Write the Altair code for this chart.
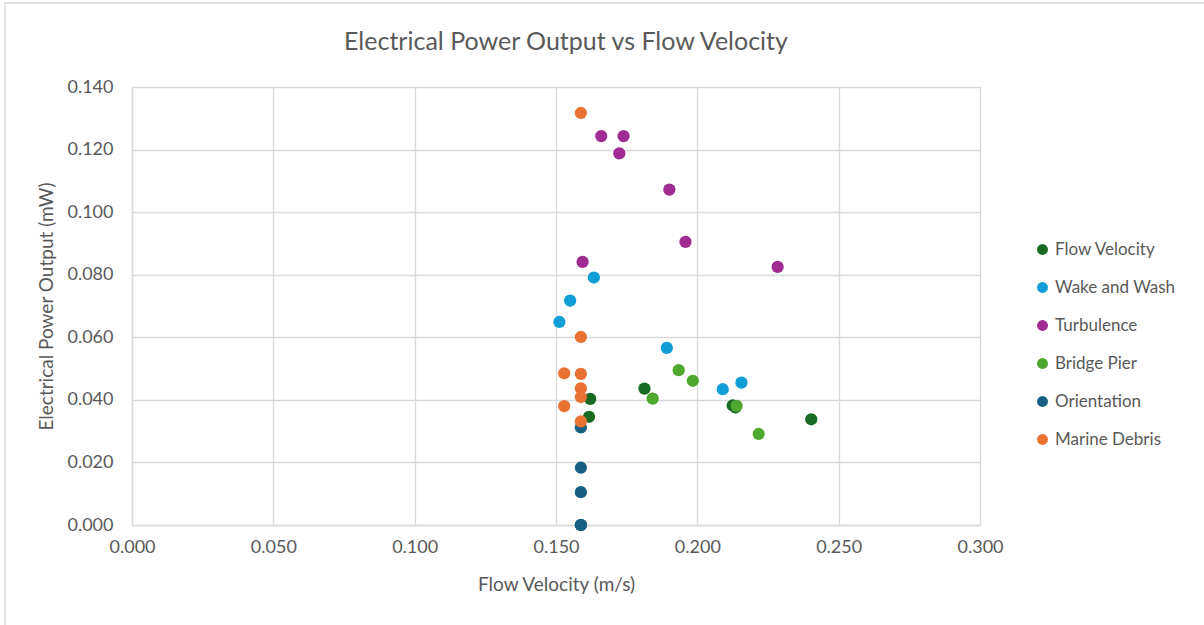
import altair as alt
import pandas as pd

series_names = ["Flow Velocity", "Wake and Wash", "Turbulence", "Bridge Pier", "Orientation", "Marine Debris"]
series_colors = ["#196B24", "#0F9ED5", "#A02B93", "#4EA72E", "#156082", "#E97132"]

flow_x = [0.1621, 0.1617, 0.1813, 0.2125, 0.2135, 0.2403]
flow_y = [0.0403, 0.0346, 0.0436, 0.0382, 0.0376, 0.0338]

wake_x = [0.1512, 0.1550, 0.1634, 0.1892, 0.2090, 0.2156]
wake_y = [0.0649, 0.0717, 0.0791, 0.0566, 0.0434, 0.0455]

turb_x = [0.1594, 0.1660, 0.1739, 0.1724, 0.1901, 0.1958, 0.2284]
turb_y = [0.0841, 0.1243, 0.1243, 0.1188, 0.1072, 0.0905, 0.0825]

pier_x = [0.1842, 0.1934, 0.1984, 0.2139, 0.2217]
pier_y = [0.0404, 0.0495, 0.0461, 0.0381, 0.0291]

orient_x = [0.1588, 0.1588, 0.1588, 0.1588, 0.1588, 0.1588]
orient_y = [0.0312, 0.0183, 0.0105, 0.0, 0.0, 0.0]

debris_x = [0.1588, 0.1588, 0.1529, 0.1588, 0.1588, 0.1588, 0.1529, 0.1588]
debris_y = [0.1317, 0.0601, 0.0485, 0.0483, 0.0437, 0.0409, 0.0380, 0.0331]

chart_title = "Electrical Power Output vs Flow Velocity"

xs = [flow_x, wake_x, turb_x, pier_x, orient_x, debris_x]
ys = [flow_y, wake_y, turb_y, pier_y, orient_y, debris_y]

rows = []
for i, (name, sx, sy) in enumerate(zip(series_names, xs, ys)):
    for vx, vy in zip(sx, sy):
        rows.append({"Series": name, "x": vx, "y": vy, "k": i})
df = pd.DataFrame(rows)

FONT = "Lato"
GRAY = "#595959"
GRID = "#D9D9D9"

points = alt.Chart(df).mark_circle(size=150, opacity=1).encode(
    x=alt.X("x:Q", title="Flow Velocity (m/s)",
            scale=alt.Scale(domain=[0, 0.3], nice=False, zero=False),
            axis=alt.Axis(values=[0, 0.05, 0.1, 0.15, 0.2, 0.25, 0.3], format=".3f",
                          grid=True, gridColor=GRID, gridWidth=1.3, labelFlush=False,
                          domainColor=GRID, domainWidth=1.3, ticks=False,
                          labelPadding=13, labelFontSize=18, labelColor=GRAY, labelFont=FONT,
                          titleFont=FONT, titleFontSize=19, titleColor=GRAY,
                          titleFontWeight="normal", titlePadding=19)),
    y=alt.Y("y:Q", title="Electrical Power Output (mW)",
            scale=alt.Scale(domain=[0, 0.14], nice=False, zero=False),
            axis=alt.Axis(values=[0, 0.02, 0.04, 0.06, 0.08, 0.1, 0.12, 0.14], format=".3f",
                          grid=True, gridColor=GRID, gridWidth=1.3, labelFlush=False,
                          domainColor=GRID, domainWidth=1.3, ticks=False,
                          labelPadding=19, labelFontSize=18, labelColor=GRAY, labelFont=FONT,
                          titleFont=FONT, titleFontSize=19, titleColor=GRAY,
                          titleFontWeight="normal", titlePadding=10)),
    color=alt.Color("Series:N",
                    scale=alt.Scale(domain=series_names, range=series_colors),
                    legend=alt.Legend(title=None, orient="none", legendX=902, legendY=154,
                                      labelFont=FONT, labelFontSize=17, labelColor=GRAY,
                                      symbolType="circle", symbolSize=120, symbolStrokeWidth=0,
                                      rowPadding=20, labelOffset=4, symbolOffset=0)),
    order=alt.Order("k:Q"),
)

border = alt.Chart(pd.DataFrame({"a": [0]})).mark_rect(
    fill=None, stroke=GRID, strokeWidth=1.5
).encode(
    x=alt.value(-127), x2=alt.value(1100), y=alt.value(-84), y2=alt.value(600)
)

title = alt.Chart(pd.DataFrame({"t": [chart_title]})).mark_text(
    font=FONT, fontSize=25, color=GRAY, align="center", baseline="alphabetic"
).encode(
    text="t:N", x=alt.value(434), y=alt.value(-37)
)

chart = alt.layer(border, title, points).properties(
    width=848, height=438,
    autosize=alt.AutoSizeParams(type="none"),
    padding={"left": 132, "top": 87, "right": 224, "bottom": 100},
).configure_view(stroke=None).configure(background="white")

chart.save("out.html", embed_options={"renderer": "svg", "actions": False})
